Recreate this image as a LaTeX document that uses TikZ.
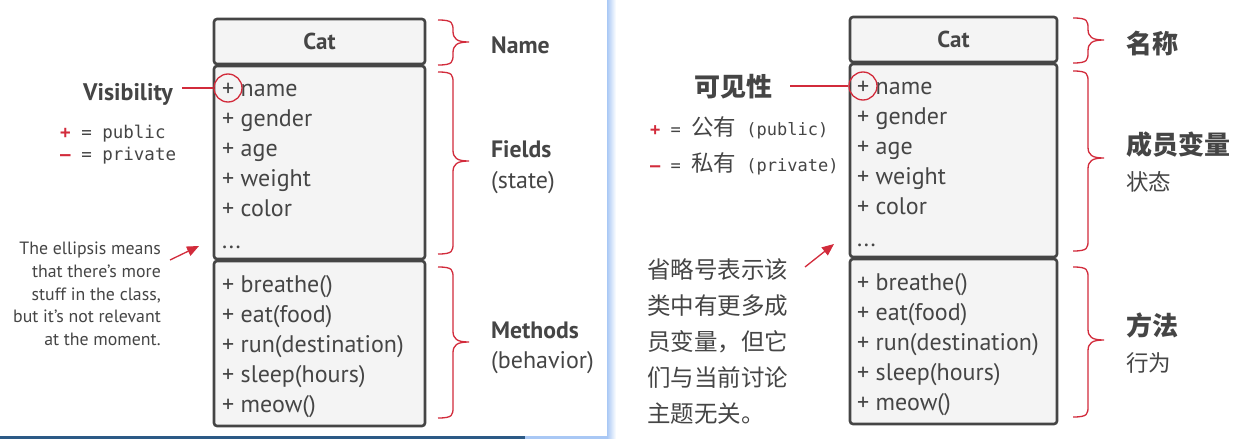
\documentclass[tikz,border=0pt]{standalone}
\usepackage{fontspec}
\setmainfont{PT Sans}
\newfontfamily\monof{DejaVu Sans Mono}
\newfontfamily\cjk{Noto Sans CJK SC}
\usetikzlibrary{arrows.meta}
\definecolor{ink}{HTML}{454545}
\definecolor{redc}{HTML}{D22B3B}
\definecolor{boxfill}{HTML}{F4F4F4}
\definecolor{edgeblue}{HTML}{A9C8F5}
\definecolor{darkblue}{HTML}{2C5A86}
\tikzset{
  comp/.style={draw=ink, fill=boxfill, line width=2.6pt, rounded corners=3pt, inner sep=0pt},
  row/.style={font=\fontsize{24}{28}\selectfont, text=ink, anchor=base west, inner sep=0pt},
  title/.style={font=\fontsize{23}{27}\selectfont\bfseries, text=ink, inner sep=0pt},
  lbl/.style={font=\fontsize{23.7}{28}\selectfont\bfseries, text=ink, anchor=base west, inner sep=0pt},
  sublbl/.style={font=\fontsize{24}{28}\selectfont, text=ink, anchor=base west, inner sep=0pt},
  cjklbl/.style={font=\fontsize{26}{30}\selectfont\cjk\bfseries, text=ink, anchor=base west, inner sep=0pt},
  cjksub/.style={font=\fontsize{22.5}{27}\selectfont\cjk, text=ink, anchor=base west, inner sep=0pt},
  legend/.style={text=ink, anchor=base west, inner sep=0pt},
  brc/.style={draw=redc, line width=1.3pt},
  redline/.style={draw=redc, line width=1.3pt},
  visc/.style={circle, draw=redc, line width=1.3pt, minimum size=28pt, inner sep=0pt},
  redarrow/.style={draw=redc, line width=1.3pt, -{Triangle[length=12pt,width=10pt]}, redc},
}
% brace: #1 left x, #2 mid x, #3 tip x, #4 top y, #5 middle y, #6 bottom y
\newcommand{\mybrace}[6]{%
  \draw[brc] (#1,#4) .. controls (#2,#4) and (#2,#4+3) .. (#2,#4+11)
    -- (#2,#5-11) .. controls (#2,#5-3) and (#2+4,#5) .. (#3,#5)
    .. controls (#2+4,#5) and (#2,#5+3) .. (#2,#5+11)
    -- (#2,#6-11) .. controls (#2,#6-3) and (#2,#6) .. (#1,#6);}
\begin{document}
\begin{tikzpicture}[x=1pt,y=-1pt]
\useasboundingbox (0,0) rectangle (1253,439);
\fill[white] (0,0) rectangle (1253,439);
% panel edges
\shade[left color=edgeblue, right color=white] (607,0) rectangle (616,439);
\fill[darkblue] (0,436) rectangle (525,439);
\fill[edgeblue] (525,436) rectangle (607,439);

% ================= LEFT (English) =================
\node[comp, minimum width=211pt, minimum height=45pt] (hdrL) at (319.5,41.5) {};
\node[title] (catL) at (hdrL.center) {Cat};
\node[comp, minimum width=211pt, minimum height=193pt] (fldL) at (319.5,162.5) {};
\node[comp, minimum width=211pt, minimum height=165pt] (mthL) at (319.5,343.5) {};
\node[row] (fL1) at (222,96) {+ name};
\node[row] (fL2) at (222,126) {+ gender};
\node[row] (fL3) at (222,156) {+ age};
\node[row] (fL4) at (222,186) {+ weight};
\node[row] (fL5) at (222,216) {+ color};
\node[row] (fL6) at (222,248) {...};
\node[row] (mL1) at (222,292) {+ breathe()};
\node[row] (mL2) at (222,322) {+ eat(food)};
\node[row] (mL3) at (222,352) {+ run(destination)};
\node[row] (mL4) at (222,382) {+ sleep(hours)};
\node[row] (mL5) at (222,412) {+ meow()};

\node[visc] (circL) at (228,88) {};
\node[font=\fontsize{24}{28}\selectfont\bfseries, text=ink, anchor=base east, inner sep=0pt] (visL) at (173,100) {Visibility};
\coordinate (visLend) at (182,88);
\draw[redline] (visLend) -- (circL.west);

\node[legend, font=\fontsize{17.5}{21}\selectfont\monof] (pubL) at (60,138) {{\color{redc}\bfseries +} = public};
\node[legend, font=\fontsize{17.5}{21}\selectfont\monof] (privL) at (60,160) {{\color{redc}\bfseries \symbol{"2013}} = private};

\node[font=\fontsize{17.8}{22.7}\selectfont, text=ink, align=right, anchor=east, inner sep=0pt] (noteL) at (161,294)
  {The ellipsis means\\that there's more\\stuff in the class,\\but it's not relevant\\at the moment.};
\coordinate (arrLs) at (170,260);
\coordinate (arrLe) at (199,246);
\draw[redarrow] (arrLs) -- (arrLe);

\mybrace{438}{453}{469}{20}{42}{65}
\mybrace{438}{453}{469}{72}{161}{254}
\mybrace{438}{453}{469}{267}{342}{418}
\node[lbl] (nameL) at (491,53) {Name};
\node[lbl] (fieldsL) at (491,157) {Fields};
\node[sublbl] (stateL) at (491,188) {(state)};
\node[lbl] (methL) at (491,338) {Methods};
\node[sublbl] (behL) at (491,368) {(behavior)};

% ================= RIGHT (Chinese) =================
\node[comp, minimum width=207pt, minimum height=45pt] (hdrR) at (953.5,39.5) {};
\node[title] (catR) at (hdrR.center) {Cat};
\node[comp, minimum width=207pt, minimum height=193pt] (fldR) at (953.5,160.5) {};
\node[comp, minimum width=207pt, minimum height=165pt] (mthR) at (953.5,341.5) {};
\node[row] (fR1) at (857,94) {+ name};
\node[row] (fR2) at (857,124) {+ gender};
\node[row] (fR3) at (857,154) {+ age};
\node[row] (fR4) at (857,184) {+ weight};
\node[row] (fR5) at (857,214) {+ color};
\node[row] (fR6) at (857,246) {...};
\node[row] (mR1) at (857,290) {+ breathe()};
\node[row] (mR2) at (857,320) {+ eat(food)};
\node[row] (mR3) at (857,350) {+ run(destination)};
\node[row] (mR4) at (857,380) {+ sleep(hours)};
\node[row] (mR5) at (857,410) {+ meow()};

\node[visc] (circR) at (863,86) {};
\node[font=\fontsize{26}{30}\selectfont\cjk\bfseries, text=ink, anchor=base, inner sep=0pt] (visR) at (733,96) {可见性};
\coordinate (visRend) at (790,86);
\draw[redline] (visRend) -- (circR.west);

\node[legend, font=\fontsize{17}{20}\selectfont\monof] (pubR) at (650,135) {{\color{redc}\bfseries +} = {\fontsize{22.5}{26}\selectfont\cjk 公有} (public)};
\node[legend, font=\fontsize{17}{20}\selectfont\monof] (privR) at (650,171) {{\color{redc}\bfseries \symbol{"2013}} = {\fontsize{22.5}{26}\selectfont\cjk 私有} (private)};

\node[font=\fontsize{23.5}{36}\selectfont\cjk, text=ink, align=left, anchor=west, inner sep=0pt] (noteR) at (647,342)
  {省略号表示该\\类中有更多成\\员变量，但它\\们与当前讨论\\主题无关。};
\coordinate (arrRs) at (805,267);
\coordinate (arrRe) at (834,244);
\draw[redarrow] (arrRs) -- (arrRe);

\mybrace{1073}{1088}{1104}{18}{40}{63}
\mybrace{1073}{1088}{1104}{71}{158}{251}
\mybrace{1073}{1088}{1104}{267}{340}{417}
\node[cjklbl] (nameR) at (1126,53) {名称};
\node[cjklbl] (fieldsR) at (1126,154) {成员变量};
\node[cjksub] (stateR) at (1126,190) {状态};
\node[cjklbl] (methR) at (1126,335) {方法};
\node[cjksub] (behR) at (1126,371) {行为};
\end{tikzpicture}
\end{document}
